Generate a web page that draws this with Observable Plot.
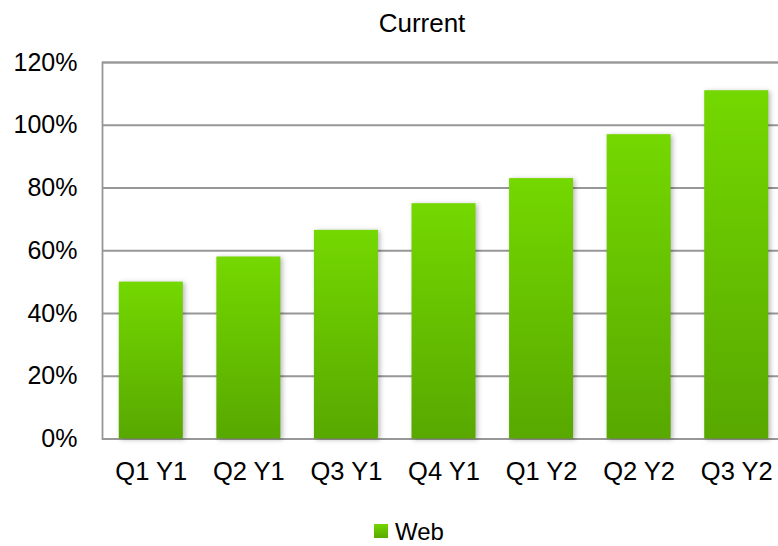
<!DOCTYPE html>
<html>
<head>
<meta charset="utf-8">
<script src="https://cdn.jsdelivr.net/npm/d3@7"></script>
<script src="https://cdn.jsdelivr.net/npm/@observablehq/plot@0.6"></script>
<style>
  html, body { margin: 0; padding: 0; background: #fff; overflow: hidden; }
  body { width: 778px; height: 546px; font-family: "Liberation Sans", Arial, Helvetica, sans-serif; color: #000; }
  #title {
    box-sizing: border-box; width: 778px; height: 40px;
    padding-left: 66px; padding-top: 10px;
    font-size: 26px; line-height: 26px; text-align: center;
  }
  #chart svg { display: block; overflow: visible; }
  #chart g[aria-label="bar"] { filter: drop-shadow(2px 1px 2.5px rgba(0, 0, 0, 0.28)); }
  #legend { position: relative; width: 778px; height: 46px; }
  #legend .swatch {
    position: absolute; left: 374px; top: 24px; width: 14px; height: 14px;
    background: linear-gradient(#74d600, #59a900);
  }
  #legend .label { position: absolute; left: 395px; top: 20px; font-size: 24px; line-height: 24px; }
</style>
</head>
<body>
<svg width="0" height="0" style="position:absolute">
  <defs>
    <linearGradient id="webFill" x1="0" y1="0" x2="0" y2="1">
      <stop offset="0" stop-color="#74d800"/>
      <stop offset="1" stop-color="#58a800"/>
    </linearGradient>
  </defs>
</svg>
<div id="title">Current</div>
<div id="chart"></div>
<div id="legend"><div class="swatch"></div><div class="label">Web</div></div>
<script>
// Quarterly share for the "Web" series
const quarters = ["Q1 Y1", "Q2 Y1", "Q3 Y1", "Q4 Y1", "Q1 Y2", "Q2 Y2", "Q3 Y2"];
const webShare = [50, 58, 66.5, 75, 83, 97, 111];
const yTicks = [0, 20, 40, 60, 80, 100, 120];

const rows = quarters.map((quarter, i) => ({quarter, value: webShare[i]}));

const chart = Plot.plot({
  width: 778,
  height: 460,
  marginLeft: 102,
  marginRight: -7,
  marginTop: 22,
  marginBottom: 61.5,
  style: {fontFamily: "Liberation Sans, Arial, Helvetica, sans-serif", fontSize: "25px", color: "#000", background: "transparent"},
  x: {domain: quarters, paddingInner: 0.344, paddingOuter: 0.172, round: false, label: null},
  y: {domain: [0, 120], label: null},
  marks: [
    Plot.ruleY(yTicks, {stroke: "#979797", strokeWidth: 1.8}),
    Plot.frame({stroke: "#979797", strokeWidth: 1.8}),
    Plot.barY(rows, {x: "quarter", y: "value", fill: "url(#webFill)"}),
    Plot.axisY(yTicks, {tickSize: 0, tickPadding: 25, tickFormat: d => d + "%", fontSize: 25, label: null}),
    Plot.axisX({tickSize: 0, tickPadding: 23, fontSize: 25.5, label: null})
  ]
});
document.getElementById("chart").appendChild(chart);
</script>
</body>
</html>
